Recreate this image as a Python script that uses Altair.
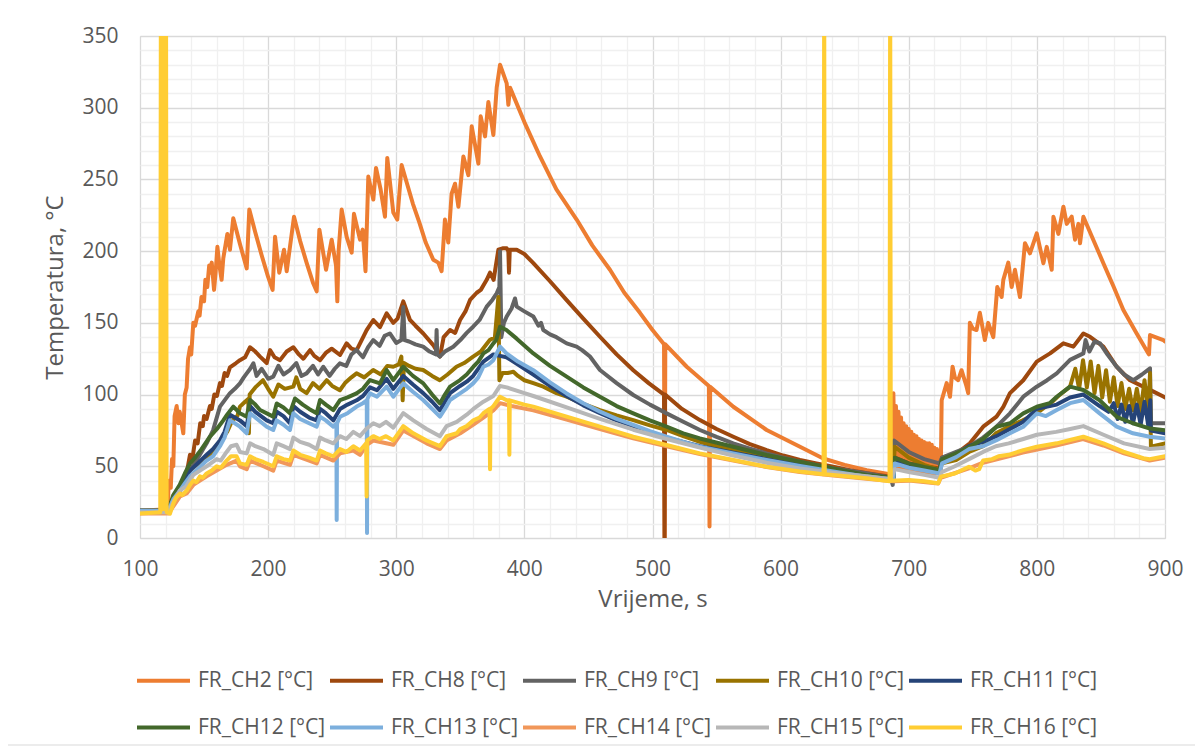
import altair as alt
import pandas as pd

NAMES = ["FR_CH2 [°C]", "FR_CH8 [°C]", "FR_CH9 [°C]", "FR_CH10 [°C]", "FR_CH11 [°C]",
         "FR_CH12 [°C]", "FR_CH13 [°C]", "FR_CH14 [°C]", "FR_CH15 [°C]", "FR_CH16 [°C]"]
COLORS = ["#ED7D31", "#9E480E", "#636363", "#997300", "#264478",
          "#43682B", "#7CAFDD", "#F1975A", "#B7B7B7", "#FFCD33"]

CH2 = [(100,19),(121.5,20),(122.5,40),(124,35),(125,55),(126,50),(127,85),(128.6,92),(130,80),(131,88),
       (133.8,73),(135,100),(136.4,105),(137.5,125),(139,133),(140,128),(141.6,150),(143,148),(145.5,158),
       (146.5,155),(148,168),(150,165),(151,180),(152.5,175),(154,190),(155,185),(156,192),(157.8,173),
       (159,185),(160.4,203),(162,190),(163.7,180),(165,195),(168.2,212),(170.2,201),(172.8,223),(178,205),
       (183.3,188),(185.3,229),(190,213),(195,197),(200,182),(203.5,173),(205.4,210),(208.7,185),(212.4,201),
       (214.5,186),(220.2,224),(225,207),(230,192),(235,178),(237.9,172),(240,215),(245.2,187),(249.6,208),
       (253,190),(254,165),(255,200),(257.4,229),(261.3,210),(265.2,199),(267,226),(271.7,208),(273.8,215),
       (276,186),(278.2,252),(282.1,236),(284.2,258),(287.8,243),(291.2,224),(293,265),(297.7,227),
       (300.8,222),(304.2,260),(308.1,248),(313,233),(318,220),(323,206),(328.9,194),(332.8,192),
       (335.4,186),(338,222),(340.6,206),(343.2,240),(345.9,247),(348.5,231),(352.4,266),(356.3,253),
       (358.9,287),(364.1,261),(365.9,294),(369.3,280),(371.9,304),(375.8,281),(378.4,314),(381,330),
       (386.2,317),(387.5,302),(388.8,314),(400,290),(412.2,266),(425,243),(440.8,222),(453,204),
       (466.8,187),(478,171),(490.2,157),(500,145),(509,135),(509.5,0),(510,135),(526.7,119.4),(544,106),
       (544.5,8),(545,105.5),(563.1,91.5),(589.1,75.3),(615.1,63.6),(633.3,55.4),(650,51),(667.2,47.2),
       (682.8,44.9),(687.5,44),(688,101),(689,50),(690,92),(691,48),(692,88),(693,49),(694,84),(695,48),
       (696,80),(697,47),(698,78),(699,48),(700,76),(701,47),(702,74),(703,47),(704,72),(705,46),(706,71),
       (707,46),(708,69),(709,46),(710,68),(711,46),(712,67),(713,46),(714,66),(715,45),(716,66),(717,45),
       (718,65),(719,45),(720,63),(721,45),(722,62),(723,45),(724,61),(725,46),(725.7,96),(727,100),
       (729.6,108),(732.2,98.5),(734.2,119.4),(736,112),(738.6,110),(741.2,117),(745,106),(746.4,101),
       (747.7,150),(750,146),(752.9,145),(755.5,157),(759.4,138),(762,150),(766,140),(769.1,175),
       (772.5,168),(773.8,180),(777.7,192),(780.3,175),(782.9,187),(786.8,168),(790.7,205.5),(794.6,198.5),
       (799.9,212.4),(805.1,191.6),(807.7,203),(811.6,187),(812.9,224),(816.8,212),(820.7,231),(823.3,219),
       (827.2,224),(829.8,208),(832.4,219),(833.7,205.5),(836.3,224),(844,208),(851.9,191.6),(860,175),
       (867.5,159),(877.9,142.6),(887,128.7),(887.5,128),(888.3,141.5),(898.7,138),(900,137)]

CH8 = [(100,19),(122,19),(125,22),(128,30),(130,28),(133,38),(135,42),(137,48),(139,58),(141,56),
       (143,68),(145,66),(147,80),(149,78),(150,85),(152,83),(154.6,92),(156,90),(158,100),(160,99),
       (162.4,108),(164,106),(166,115),(168,113),(170.2,119),(175,122),(178,124),(182,126),(185.9,133),
       (190,130),(193.7,126.5),(198.9,122),(201.5,131),(205,126),(209.3,124),(214.5,130),(219.7,133),
       (224,128),(227.5,125),(232.7,131),(236,127),(240.5,124),(245,129),(249.6,132),(256.1,127.6),
       (261.3,135.7),(265,132),(269.1,131),(273,138),(276.9,145),(282.1,152),(287.3,147),(292.5,156.6),
       (297.7,150),(301,153),(305.5,165),(310.7,152),(315,148),(321.1,142.6),(328.9,134.5),(334.1,126.5),
       (337,140),(342,145),(346,143),(349.8,152),(354,158),(357.6,166),(362.8,171),(366,173),(370.6,180),
       (373.2,185),(376,180),(379.7,201),(383,202),(386.2,202),(387.5,200),(388,185),(388.6,201),
       (394,201),(400,198),(407,191.6),(420,179),(433,165.8),(446,153),(459,140.3),(472,128),(485,117),
       (497,108),(509,100),(509.4,0),(509.8,100),(523,90),(537,82.2),(550,76),(563.1,70.6),(576,65.5),
       (589.1,61.3),(602,57.5),(615.1,54.4),(628,52),(641.1,49.7),(654,47.3),(667.2,45.1),(685.4,42.7),
       (688,42),(689,56),(700,52),(712,50),(724,48.5),(726,56),(737.4,59),(747.7,66),(758.1,77.6),
       (768.5,84.6),(773.8,91.5),(779,101),(789.4,110),(799.9,123),(810.3,128.7),(820.7,135.7),
       (828.5,133.4),(836.3,142.6),(841.5,140.3),(851.9,133.4),(862.3,119.4),(872.7,110),(888.3,103.3),
       (898.7,98.6),(900,98)]

CH9 = [(100,19),(122,19),(126,27),(131,35),(136,42),(141,50),(146,57),(152,66),(157,75),(162.4,91.6),
       (166,96),(170.2,101),(174,104),(178,107.8),(181,112),(183.3,114.8),(186,118),(188.5,121.8),(191,113),
       (195,118),(200,111),(204,112.5),(208,120),(212,114),(217,117.1),(222,122),(226,113),(230,114.8),
       (235,120),(239,114),(243,119.4),(248,113),(252,118),(256,121.8),(261,120),(265,128),(269,131.1),
       (274,126),(278,133),(282,138),(287,134),(291,141),(295,142.6),(300,136),(304,138),(305.5,161),
       (306.5,138),(310,137),(315,135),(321,133.4),(326,130),(331,128),(331.5,145),(332,128),(334,126.5),
       (338,130),(344.5,133.4),(350,138),(355,143),(360,147.3),(365,152),(370.6,161.3),(375,166),
       (378.4,170.6),(380.5,175),(381,200),(382,140),(384,150),(386.2,154.4),(390,160),(392.7,167),
       (394,161.3),(400,158),(407,154.4),(411,148),(413,150),(414.8,145),(420,142),(425,140),(433,135.7),
       (440.8,133.4),(445,131),(451.2,126.5),(459,117.1),(472,108),(485,99.7),(498,93),(511,86.9),(524,81),
       (537,75.3),(550,70.5),(563,66),(576,62.3),(589,59),(602,56),(615,53.2),(641,48.5),(667,45.1),
       (686,42),(687.5,37),(688.5,68),(700,60),(712,55),(724,52),(726,56),(737,60),(747,63.6),(758,70),
       (768.5,77.6),(779,86.9),(789.4,98.5),(799.9,105.5),(808,110),(815.5,114.8),(825.9,124.2),
       (836.3,128.7),(838,138),(841,130),(845,137),(849.3,135.7),(855,128),(862.3,119.4),(868,114),
       (875.3,110),(882,114),(888.3,118.3),(889,80),(900,80)]

CH10 = [(100,19),(122,19),(126,26),(131,33),(136,38),(141,44),(146,49),(152,56),(158,62),(163,68),
        (168,74),(172,82),(176,85),(178,91.6),(182,95),(184.5,97),(185,73),(185.6,100),(190,105),(196,110),
        (200,104),(204,98.5),(208,107),(213,104),(219.7,105.5),(222,112),(225,104),(230,101),(235,108),
        (240,104),(245.7,110),(250,106),(256,103),(260,108),(265,112),(269,114.8),(275,112),(282,117.1),
        (288,114),(293,120),(297.7,119.4),(302,121),(304,126.5),(305,96),(306,122),(310,120),(315,118),
        (321,117.1),(328,113),(334,110),(340,114),(347,119.4),(353,122),(360,126.5),(366,130),(373,138),
        (377,140),(379.7,168),(380.5,110),(383,115),(387,115),(391.4,115.9),(395,113),(400,110),(407,108),
        (414.8,105.5),(425,101),(433,98.5),(446,93.5),(459,89.2),(472,85.5),(485,82.2),(498,78.5),
        (511,75.3),(524,71),(537,67.1),(550,64),(563,61.3),(589,56.7),(615,52),(641,47.4),(667,42.7),
        (688,41.5),(689,63.6),(700,56),(712,51),(724,47.4),(726,52),(737,54.4),(747,60),(758,64),(768,73),
        (779,78),(789,82),(800,87),(812,95),(818,100),(825.9,105.5),(830,118),(833,104),(836,124),
        (839,105),(842,123),(845,101),(848,120),(851,98),(854,117),(857,95),(860,112),(863,92),(866,108),
        (869,90),(872,104),(875,89),(878,104),(881,88),(884,110),(887,88),(888.3,115),(889,63.6),(900,66)]

CH11 = [(100,19),(122,19),(126,28),(131,35),(139,47),(145,52),(152,58),(157,62),(162.4,68),(166,74),
        (170.2,86),(174,84),(178,82),(183.3,78),(185.9,92),(190,88),(198.9,82),(204,80),(206.7,88),(212,85),
        (217,80),(219.7,92),(225,88),(232,84),(237.9,82),(240.5,90),(245,87),(250.9,82),(256.1,90),(262,93),
        (269.1,96),(274,99),(279.5,105),(285,103),(292.5,111),(297.7,104),(305.5,113),(313,107),(321,101),
        (328,95),(334.1,89),(338,95),(342,101),(349.8,106),(355,109),(360,113),(368,123),(375.8,128),
        (381,127),(386,126),(395,121),(407,114),(420,106),(433,99),(446,92.5),(459,87),(472,82),(485,78),
        (498,74),(511,70),(537,64),(563,59.5),(589,55),(615,51),(641,47),(667,43.5),(688,41.5),(689,54),
        (700,51),(712,49),(724,47),(726,54),(737,58),(747,64),(758,67),(768.5,71),(779,76),(789.4,81),
        (800,90),(815.5,93),(825.9,98),(836.3,100),(849,92),(856,88),(860,94),(863,83),(866,93),(869,81),
        (872,92),(875,80),(878,93),(881,79),(884,95),(887,78),(888.5,96),(889,75),(900,73)]

CH12 = [(100,19),(122,19),(126,30),(131,37),(135,45),(139,52),(143,56),(148,62),(154.6,70.6),(160,76),
        (165,82),(168,86),(172.8,91.6),(178,87),(183.3,84.6),(186,96.2),(190,93),(193.7,89.2),(204,84.6),
        (206.7,93.8),(212,91),(217,87),(221,97.3),(227,93),(232,90),(237.9,87),(240.5,96.2),(245,93),
        (250.9,89.2),(256.1,96.2),(262,98),(269,100.8),(274,104),(279.5,110.1),(287.3,107.8),(292.5,117.1),
        (297.7,110.1),(305.5,119.4),(313,113),(321.1,107.8),(328,100),(334.1,93.8),(338,100),(342,105.5),
        (349.8,110.1),(355,114),(360.2,119.4),(364,123),(368,128.7),(372,131),(375.8,135.7),(378,138),
        (381,147.3),(386,145),(394,139),(407,128.7),(420,120),(433,112.5),(446,105),(459,98.5),(472,92),
        (485,86.9),(498,82),(511,77.6),(524,73),(537,69.4),(563,63.6),(589,57.9),(615,53.2),(641,48.5),
        (667,43.9),(688,42),(689,56),(700,52),(712,49.5),(724,47.4),(726,55),(737,59),(747.7,63.6),(758,69),
        (768.5,77.6),(779,80),(789.4,86.9),(799.9,91.5),(810,94),(815.5,98.5),(825.9,105.5),(836.3,103.2),
        (849,96),(862.3,84.5),(875,80),(888.3,76.3),(900,75.1)]

CH13 = [(100,19),(122,19),(126,27),(131.2,33),(135,38),(139,43),(145,48),(152,54),(157,57),(162.4,64),
        (166,70),(170.2,82),(174,80),(178,77.6),(183.3,73),(185.9,87),(190,84),(198.9,77.6),(204,75.3),
        (206.7,82),(212,79),(217,75.3),(219.7,87),(225,83),(232,80),(237.9,77.6),(240.5,84.5),(245,82),
        (250.9,77.6),(253.3,80),(253.5,12.5),(253.8,80),(256.1,84.5),(262,87),(269.1,91.6),(274,94),(277,96),
        (277.2,3.5),(277.5,97),(279.5,100.8),(285,98.5),(292.5,105.5),(297.7,98.5),(305.5,107.8),(313,102),
        (321,96.2),(328,90),(334.1,84.6),(338,90),(342,96.2),(349.8,100.8),(355,104),(360,107.8),(364,112),
        (368,119.4),(372,121),(375.8,124),(381,133.4),(386,128.7),(395,123),(407,117),(420,108.5),
        (433,100.8),(446,94),(459,88.1),(472,83),(485,78.8),(498,74.5),(511,70.6),(524,67),(537,63.6),
        (563,59),(589,54.4),(615,50.2),(641,46.3),(667,42.8),(688,41),(689,52),(700,49),(712,47),(724,45),
        (726,52),(737,56.4),(747,62),(758,64),(768.5,68.2),(779,73),(789.4,77.6),(800,86.9),(807,85),
        (815.5,89.2),(825.9,94),(836.3,96.2),(849,86.9),(862.3,77.6),(875,73),(888,70.6),(900,69.4)]

CH14 = [(100,17),(122,17),(126,22),(131.2,29),(136.4,31),(141.6,37),(146.8,40),(152,43),(159.8,47),
        (167.6,51),(175.4,54),(178,50),(183.3,48),(185.9,54),(196.3,50),(204,47),(206.7,54),(217.1,51),
        (219.7,58),(237.9,52),(240.5,58),(250.9,54),(256.1,59),(266.5,61),(271.7,58),(277,65),(282.1,68),
        (297.7,65),(305.5,75),(323.7,66),(334.1,62),(339.3,68),(350,73),(360.2,79),(368,84),(375.8,89),
        (381,94),(390,92),(407,89),(433,82.5),(459,76),(485,69.5),(511,64),(537,58.5),(563,54),(589,49.5),
        (615,46),(641,43.5),(667,41.3),(688,39.5),(700,40),(723,38),(725,42),(747,48.5),(758,52.5),
        (789,59.5),(815,64.5),(836,69),(852,64.5),(868,59),(888,54),(900,56)]

CH15 = [(100,18),(122,18),(126,25),(131,33),(136,36),(141.6,44),(146.8,47),(152,50),(159.8,55),(163,54),
        (167.6,60),(171,64),(175.4,65),(178,60),(183.3,59),(185.9,66),(190,64),(196.3,62),(204,58),
        (206.7,66),(212,64),(217.1,62),(219.7,70),(225,67),(232,65),(237.9,62),(240.5,70),(245,68),
        (250.9,66),(256.1,71),(261,69),(266.5,74),(271.7,71),(276.5,76),(282.1,80),(287,78),(292,81),
        (297.7,77),(305.5,87),(313.3,82),(323.7,76),(334.1,71),(339.3,78),(347.2,81),(355,86),(360.2,90),
        (368,95),(375.8,99),(381,106),(386.2,105),(400,101),(407,99),(433,91),(459,83),(485,75.5),(511,69),
        (537,63),(563,57.5),(589,52.5),(615,48.5),(641,45.5),(667,43),(686,41),(689,48),(700,46),(712,44),
        (724,42),(726,46),(736,50),(747,55),(758,60),(768,64),(778,66),(789.4,69),(800,72),(815,74),
        (826,76),(836.3,78),(852,72),(868,66),(888,62),(900,63)]

CH16 = [(100,17),(115.8,18),(116.3,400),(117.8,20),(118.3,400),(119.8,20),(120.3,400),(120.8,18),
        (123.4,17),(126,24),(128,28),(131.2,31),(133,30),(136.4,33),(139,37),(141.6,40),(144,39),(146.8,43),
        (149,42),(152,45),(156,47),(159.8,50),(163,49),(167.6,54),(171,57),(175.4,57),(178,52),(183.3,51),
        (185.9,57),(190,55),(196.3,53),(204,50),(206.7,57),(212,55),(217.1,54),(219.7,61),(225,58),(232,56),
        (237.9,54),(240.5,61),(245,59),(250.9,57),(256.1,62),(261,60),(266.5,64),(271.7,61),(276.5,66),
        (276.9,29),(277.3,68),(282.1,71),(287,69),(292,71),(297.7,68),(305.5,78),(313.3,73),(323.7,68),
        (334.1,64),(339.3,71),(347.2,73),(350,76),(355,78),(360.2,82),(365,84),(368,87),(372.8,90),
        (373.2,48),(373.6,90),(375.8,92),(381,98.5),(386.2,96),(388,96),(388.3,58),(388.6,96),(400,93),
        (407,91.6),(433,84.6),(459,77.6),(485,70.6),(511,64.8),(537,59),(563.1,54.4),(589.1,49.7),
        (615.1,46.3),(633.5,44.5),(634,400),(634.5,44.5),(641.1,44),(667.2,41.6),(685,39.5),(685.5,400),
        (686,40),(700,40.5),(712,39.5),(723,38.2),(725,42.8),(736,45),(747,49.7),(752,47),(755,48),(758,54),
        (765,55),(770,57),(778,58),(789.4,61.3),(800,63.6),(815.5,66),(825.9,68.3),(836.3,70.6),(851.9,66),
        (867.5,60.2),(883,55.6),(888,55),(900,57)]

SERIES = [CH2, CH8, CH9, CH10, CH11, CH12, CH13, CH14, CH15, CH16]
X_TICKS = list(range(100, 901, 20))
Y_TICKS = list(range(0, 351, 10))

rows = []
for name, pts in zip(NAMES, SERIES):
    for i, (t, v) in enumerate(pts):
        rows.append({"t": t, "v": v, "s": name, "i": i})
df = pd.DataFrame(rows)

FONT = "Open Sans"
TXT = "#595959"

x_enc = alt.X("t:Q", title="Vrijeme, s",
              scale=alt.Scale(domain=[100, 900], nice=False, zero=False, padding=0),
              axis=alt.Axis(values=X_TICKS, ticks=False, tickSize=0, domain=False,
                            labelExpr="datum.value % 100 === 0 ? datum.label : ''",
                            labelOverlap=False, labelFlush=False, labelFont=FONT, labelFontSize=21,
                            labelColor=TXT, labelPadding=20, titleFont=FONT, titleFontSize=24,
                            titleColor=TXT, titleFontWeight="normal", titlePadding=8,
                            gridColor={"condition": {"test": "datum.value % 100 === 0", "value": "#D9D9D9"},
                                       "value": "#F0F0F0"},
                            gridWidth=1.3))
y_enc = alt.Y("v:Q", title="Temperatura, °C",
              scale=alt.Scale(domain=[0, 350], nice=False, padding=0),
              axis=alt.Axis(values=Y_TICKS, ticks=False, tickSize=0, domain=False,
                            labelExpr="datum.value % 50 === 0 ? datum.label : ''",
                            labelOverlap=False, labelFlush=False, labelFont=FONT, labelFontSize=21,
                            labelColor=TXT, labelPadding=22, titleFont=FONT, titleFontSize=24,
                            titleColor=TXT, titleFontWeight="normal", titleX=-85, titleY=251,
                            titleAngle=-90, titleAlign="center", titleBaseline="middle",
                            gridColor={"condition": {"test": "datum.value % 50 === 0", "value": "#D9D9D9"},
                                       "value": "#F0F0F0"},
                            gridWidth=1.3))
color_enc = alt.Color("s:N", scale=alt.Scale(domain=NAMES, range=COLORS),
                      legend=alt.Legend(title=None, orient="none", legendX=-5, legendY=616,
                                        direction="horizontal", columns=5, symbolType="stroke",
                                        symbolSize=2809, symbolStrokeWidth=4, labelFont=FONT,
                                        labelFontSize=21, labelColor=TXT, labelOffset=6,
                                        columnPadding=-4, rowPadding=8, gridAlign="all",
                                        padding=0, labelLimit=300))

layers = []
for name in NAMES:
    layers.append(
        alt.Chart(df).transform_filter(alt.datum.s == name)
        .mark_line(clip=True, strokeWidth=4, strokeJoin="round", strokeCap="round")
        .encode(x=x_enc, y=y_enc, color=color_enc, order=alt.Order("i:Q"))
    )

border = alt.Chart(pd.DataFrame({"a": [0]})).mark_rect(
    fill="transparent", stroke="#D9D9D9", strokeWidth=1
).encode(x=alt.value(-133), x2=alt.value(1056), y=alt.value(-29), y2=alt.value(709))

chart = alt.layer(*layers, border).properties(
    width=1025, height=502,
    autosize=alt.AutoSizeParams(type="none"),
    padding={"left": 132, "top": 28, "right": 30, "bottom": 208},
).configure_view(stroke="#D9D9D9").configure(background="white")

chart.save("out.html", embed_options={"renderer": "svg", "actions": False})
